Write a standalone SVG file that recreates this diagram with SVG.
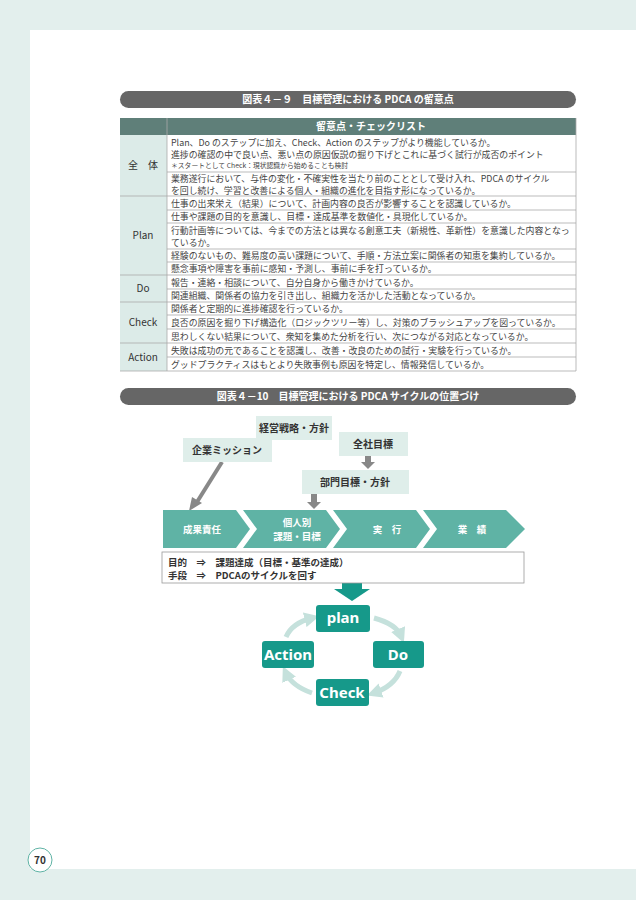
<svg xmlns="http://www.w3.org/2000/svg" width="636" height="900" viewBox="0 0 636 900">
<defs>
<style>
text{font-family:"Noto Sans CJK JP","Noto Sans",sans-serif;}
.t{font-size:8.9px;fill:#444;}
.s{font-size:6.8px;fill:#444;}
.lc{font-size:10px;fill:#333;text-anchor:middle;}
.bar{fill:#666;}
.bt{font-size:10px;fill:#fff;text-anchor:middle;font-weight:bold;}
.gl{stroke:#aaa;stroke-width:0.8;}
.bx{fill:#dfeeea;}
.bxt{font-size:10px;font-weight:bold;fill:#333;text-anchor:middle;}
.ch{fill:#5fb3a5;}
.cht{font-size:9.5px;font-weight:bold;fill:#fff;text-anchor:middle;}
.pd{fill:#16998a;}
.pdt{font-size:15px;font-weight:bold;fill:#fff;text-anchor:middle;font-family:"Noto Sans",sans-serif;}
.cyc{fill:none;stroke:#c5e1dc;stroke-width:5;}
</style>
<marker id="ah" viewBox="0 0 10 10" refX="5" refY="5" markerWidth="3" markerHeight="3" orient="auto"><path d="M0,0L10,5L0,10z" fill="#c5e1dc"/></marker>
</defs>
<rect width="636" height="900" fill="#e3efed"/>
<rect x="30" y="30" width="606" height="839" fill="#fff"/>
<circle cx="40" cy="860" r="12" fill="#fff" stroke="#5fb3a5" stroke-width="1"/>
<text x="40" y="864" font-size="10" text-anchor="middle" fill="#333" font-weight="bold">70</text>

<g id="title1"><rect class="bar" x="120" y="91" width="456" height="17" rx="8.5"/><text class="bt" x="348" y="103">図表４－９　目標管理における PDCA の留意点</text></g>

<g id="table">
<rect x="120" y="118" width="456" height="17" fill="#5f7f79"/>
<text x="371" y="130" font-size="10" fill="#fff" text-anchor="middle" font-weight="bold">留意点・チェックリスト</text>
<rect x="120" y="135" width="47" height="236" fill="#dcebe8"/>
<rect x="167" y="135" width="409" height="236" fill="#fff"/>
<g class="gl">
<line x1="167" y1="118" x2="167" y2="371"/>
<line x1="120" y1="371" x2="576" y2="371"/>
<line x1="576" y1="118" x2="576" y2="371"/>
<line x1="120" y1="196" x2="576" y2="196"/>
<line x1="120" y1="275" x2="576" y2="275"/>
<line x1="120" y1="302" x2="576" y2="302"/>
<line x1="120" y1="343" x2="576" y2="343"/>
<line x1="167" y1="172" x2="576" y2="172"/>
<line x1="167" y1="210" x2="576" y2="210"/>
<line x1="167" y1="223" x2="576" y2="223"/>
<line x1="167" y1="249" x2="576" y2="249"/>
<line x1="167" y1="262" x2="576" y2="262"/>
<line x1="167" y1="289" x2="576" y2="289"/>
<line x1="167" y1="315" x2="576" y2="315"/>
<line x1="167" y1="329" x2="576" y2="329"/>
<line x1="167" y1="357" x2="576" y2="357"/>
</g>
<text class="lc" x="143" y="169">全　体</text>
<text class="lc" x="143" y="239">Plan</text>
<text class="lc" x="143" y="292">Do</text>
<text class="lc" x="143" y="326">Check</text>
<text class="lc" x="143" y="361">Action</text>
<text class="t" x="171" y="146">Plan、Do のステップに加え、Check、Action のステップがより機能しているか。</text>
<text class="t" x="171" y="158">進捗の確認の中で良い点、悪い点の原因仮説の掘り下げとこれに基づく試行が成否のポイント</text>
<text class="s" x="171" y="168">＊スタートとして Check：現状認識から始めることも検討</text>
<text class="t" x="171" y="182">業務遂行において、与件の変化・不確実性を当たり前のこととして受け入れ、PDCA のサイクル</text>
<text class="t" x="171" y="194">を回し続け、学習と改善による個人・組織の進化を目指す形になっているか。</text>
<text class="t" x="171" y="207">仕事の出来栄え（結果）について、計画内容の良否が影響することを認識しているか。</text>
<text class="t" x="171" y="220">仕事や課題の目的を意識し、目標・達成基準を数値化・具現化しているか。</text>
<text class="t" x="171" y="234">行動計画等については、今までの方法とは異なる創意工夫（新規性、革新性）を意識した内容となっ</text>
<text class="t" x="171" y="246">ているか。</text>
<text class="t" x="171" y="259">経験のないもの、難易度の高い課題について、手順・方法立案に関係者の知恵を集約しているか。</text>
<text class="t" x="171" y="272">懸念事項や障害を事前に感知・予測し、事前に手を打っているか。</text>
<text class="t" x="171" y="286">報告・連絡・相談について、自分自身から働きかけているか。</text>
<text class="t" x="171" y="299">関連組織、関係者の協力を引き出し、組織力を活かした活動となっているか。</text>
<text class="t" x="171" y="312">関係者と定期的に進捗確認を行っているか。</text>
<text class="t" x="171" y="326">良否の原因を掘り下げ構造化（ロジックツリー等）し、対策のブラッシュアップを図っているか。</text>
<text class="t" x="171" y="340">思わしくない結果について、衆知を集めた分析を行い、次につながる対応となっているか。</text>
<text class="t" x="171" y="354">失敗は成功の元であることを認識し、改善・改良のための試行・実験を行っているか。</text>
<text class="t" x="171" y="368">グッドプラクティスはもとより失敗事例も原因を特定し、情報発信しているか。</text>
</g>

<g id="title2"><rect class="bar" x="120" y="388" width="456" height="17" rx="8.5"/><text class="bt" x="348" y="400">図表４－10　目標管理における PDCA サイクルの位置づけ</text></g>

<g id="connectors">
<line x1="222" y1="462" x2="197" y2="502" stroke="#888" stroke-width="4"/>
<path d="M189,511 L192,497 L202,503 Z" fill="#888"/>
<rect x="365" y="456" width="6" height="6" fill="#888"/><path d="M361,462 L375,462 L368,469 Z" fill="#888"/>
<rect x="311" y="494" width="6" height="8" fill="#888"/><path d="M307,502 L321,502 L314,509 Z" fill="#888"/>
<path d="M342,580 L362,580 L362,589 L370,589 L352,601 L334,589 L342,589 Z" fill="#16998a"/>
<path class="cyc" d="M374,618 Q396,624 401,636" marker-end="url(#ah)"/>
<path class="cyc" d="M400,671 Q394,686 374,693" marker-end="url(#ah)"/>
<path class="cyc" d="M312,693 Q292,686 286,673" marker-end="url(#ah)"/>
<path class="cyc" d="M286,637 Q292,623 312,618" marker-end="url(#ah)"/>
</g>

<g id="n-keiei"><rect class="bx" x="256" y="416" width="76" height="24"/><text class="bxt" x="294" y="432">経営戦略・方針</text></g>
<g id="n-mission"><rect class="bx" x="183" y="438" width="89" height="24"/><text class="bxt" x="227" y="454">企業ミッション</text></g>
<g id="n-zensha"><rect class="bx" x="339" y="432" width="69" height="24"/><text class="bxt" x="373" y="448">全社目標</text></g>
<g id="n-bumon"><rect class="bx" x="302" y="470" width="107" height="24"/><text class="bxt" x="355" y="486">部門目標・方針</text></g>

<g id="n-seika"><path class="ch" d="M163,510 L236,510 L250,529 L236,548 L163,548 Z"/><text class="cht" x="202" y="533">成果責任</text></g>
<g id="n-kojin"><path class="ch" d="M243,510 L326,510 L340,529 L326,548 L243,548 L257,529 Z"/><text class="cht" x="297" y="526">個人別</text><text class="cht" x="297" y="540">課題・目標</text></g>
<g id="n-jikko"><path class="ch" d="M333,510 L416,510 L430,529 L416,548 L333,548 L347,529 Z"/><text class="cht" x="387" y="533">実　行</text></g>
<g id="n-gyoseki"><path class="ch" d="M423,510 L506,510 L525,529 L506,548 L423,548 L437,529 Z"/><text class="cht" x="472" y="533">業　績</text></g>

<g id="n-purpose"><rect x="162" y="552" width="362" height="31" fill="#fff" stroke="#999" stroke-width="0.8"/>
<text x="168" y="566" font-size="9.5" font-weight="bold" fill="#333">目的　⇒　課題達成（目標・基準の達成）</text>
<text x="168" y="579" font-size="9.5" font-weight="bold" fill="#333">手段　⇒　PDCAのサイクルを回す</text></g>

<g id="n-plan"><rect class="pd" x="316" y="605" width="54" height="27" rx="3"/><text class="pdt" x="343" y="623">plan</text></g>
<g id="n-do"><rect class="pd" x="373" y="641" width="51" height="27" rx="3"/><text class="pdt" x="398" y="660">Do</text></g>
<g id="n-action"><rect class="pd" x="262" y="641" width="52" height="27" rx="3"/><text class="pdt" x="288" y="660">Action</text></g>
<g id="n-check"><rect class="pd" x="316" y="679" width="53" height="27" rx="3"/><text class="pdt" x="342" y="698">Check</text></g>
</svg>
